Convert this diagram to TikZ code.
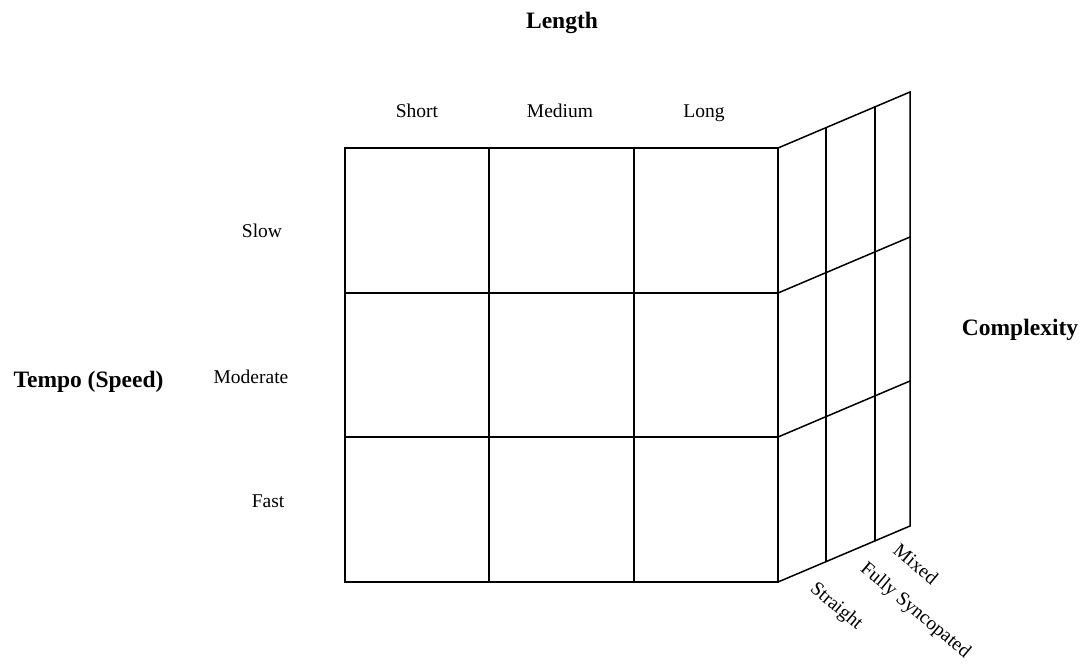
\documentclass[tikz,border=0pt]{standalone}
\usepackage{fontspec}
\setmainfont{Liberation Serif}
\begin{document}
\begin{tikzpicture}[x=1pt,y=-1pt,
  grid/.style={line width=1.5pt,line cap=round,line join=miter},
  lab/.style={font=\fontsize{19.5}{23}\selectfont,inner sep=0pt},
  blab/.style={lab,anchor=base},
  ttl/.style={font=\fontsize{23.5}{28}\selectfont\bfseries,inner sep=0pt,anchor=base},
  rlab/.style={lab,rotate=-40}]
\useasboundingbox (0,0) rectangle (1083,665);
% front face
\coordinate (A) at (345,148);
\coordinate (B) at (778,148);
\coordinate (C) at (778,582);
\coordinate (D) at (345,582);
\draw[grid] (A) rectangle (C);
\foreach \x in {489,634} \draw[grid] (\x,148) -- (\x,582);
\foreach \y in {293,437} \draw[grid] (345,\y) -- (778,\y);
% side face
\coordinate (E) at (910,92);
\coordinate (F) at (910,526);
\draw[grid] (B) -- (E) -- (F) -- (C);
\draw[grid] (778,293) -- (910,237);
\draw[grid] (778,437) -- (910,381);
\draw[grid] (826,127.6) -- (826,561.6);
\draw[grid] (875,106.8) -- (875,540.8);
% labels
\node[ttl] (length) at (562,28) {Length};
\node[blab] (short) at (417,117) {Short};
\node[blab] (medium) at (560,117) {Medium};
\node[blab] (long) at (704,117) {Long};
\node[blab] (slow) at (262,237) {Slow};
\node[blab] (moderate) at (251,383) {Moderate};
\node[blab] (fast) at (268,507) {Fast};
\node[ttl] (tempo) at (88.5,387) {Tempo (Speed)};
\node[ttl] (complexity) at (1020,335) {Complexity};
\node[rlab] (straight) at (836,607) {Straight};
\node[rlab] (fully) at (915,611) {Fully Syncopated};
\node[rlab] (mixed) at (916,564) {Mixed};
\end{tikzpicture}
\end{document}
